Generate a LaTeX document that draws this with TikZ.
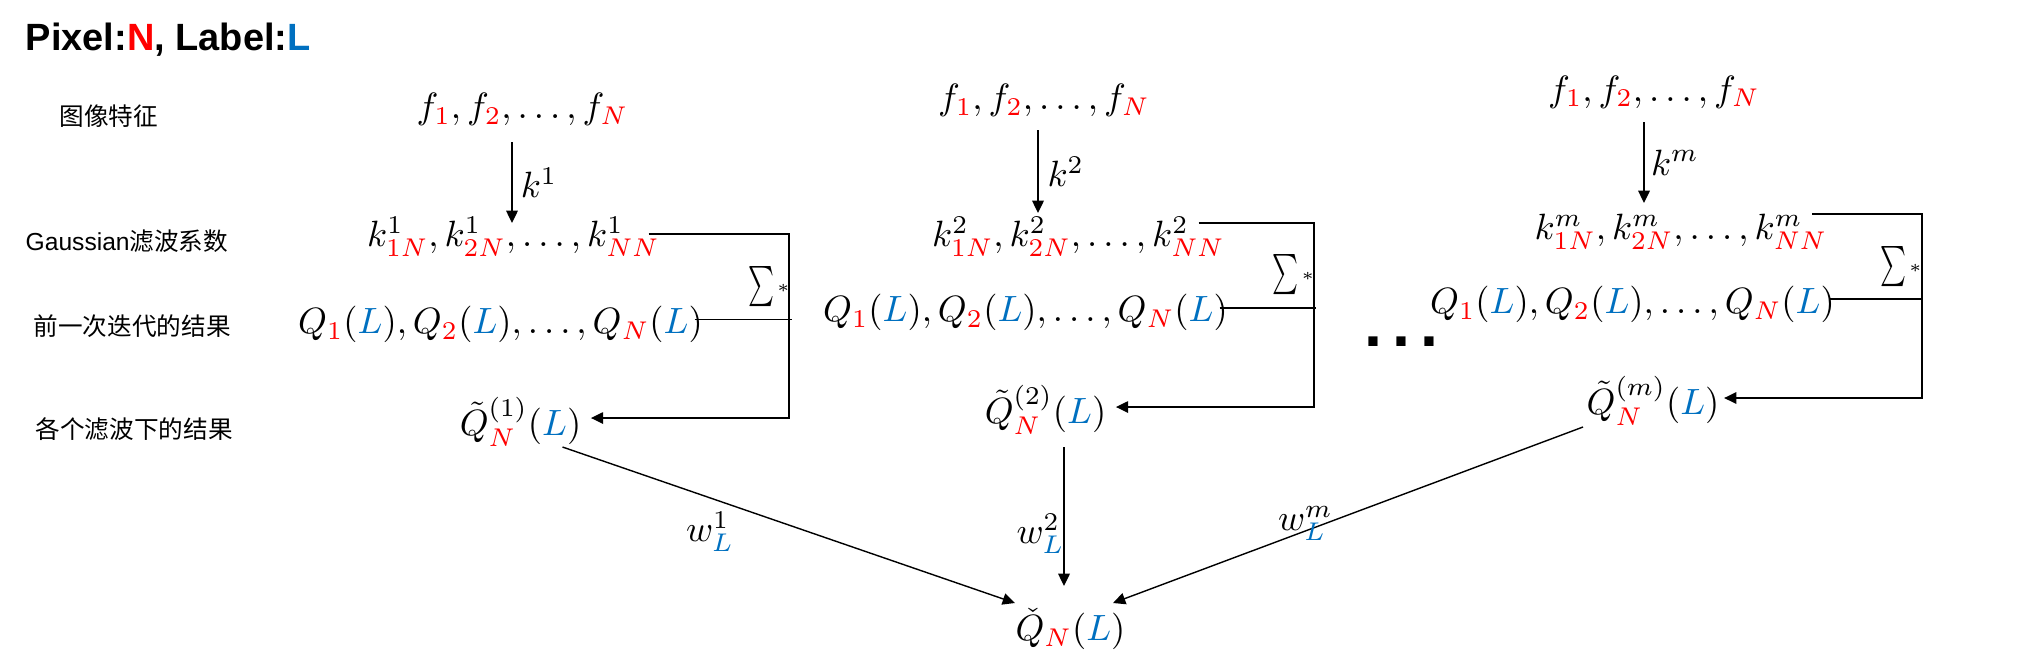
\RequirePackage{fix-cm}
\documentclass[tikz,border=0pt]{standalone}
\usepackage[no-math]{fontspec}
\usepackage{graphicx}
\setmainfont{Liberation Sans}
\newfontfamily\cjk{Noto Sans CJK SC}
\usetikzlibrary{calc,arrows.meta}
\definecolor{pxred}{RGB}{255,0,0}
\definecolor{lblue}{RGB}{0,112,192}
\newcommand{\pxr}[1]{{\color{pxred}#1}}
\newcommand{\lbl}[1]{{\color{lblue}#1}}
\newcommand{\sigstar}{\scalebox{0.70}[1.14]{$\textstyle\sum$}\hspace{0.8pt}\raisebox{1.2pt}{$\scriptscriptstyle *$}}
\begin{document}
\begin{tikzpicture}[x=0.01cm,y=-0.01cm,
  mth/.style={inner sep=0pt, font=\fontsize{10.4}{12}\selectfont},
  lab/.style={inner sep=0pt, anchor=west, font=\fontsize{7}{8}\selectfont},
  arr/.style={line width=0.4pt, -{Triangle[width=3.3pt,length=3.5pt]}},
  ln/.style={line width=0.4pt},
  sig/.style={inner sep=0pt, font=\fontsize{10}{12}\selectfont}]
\useasboundingbox (0,0) rectangle (2027,666);

% title and row labels
\node[anchor=base west, inner sep=0pt, font=\bfseries\fontsize{10.8}{12}\selectfont] (title) at (25,50)
  {Pixel:\textcolor{pxred}{N}, Label:\textcolor{lblue}{L}};
\node[lab] (l1) at (59,116) {\cjk 图像特征};
\node[lab] (l2) at (25,241) {Gaussian{\cjk 滤波系数}};
\node[lab] (l3) at (33,326) {\cjk 前一次迭代的结果};
\node[lab] (l4) at (35,429) {\cjk 各个滤波下的结果};

% column 1
\node[mth] (f1) at (522.5,109.5) {$f_{\pxr{1}},f_{\pxr{2}},\ldots,f_{\pxr{N}}$};
\node[mth] (k1) at (513.5,237) {$k^{1}_{\pxr{1N}},k^{1}_{\pxr{2N}},\ldots,k^{1}_{\pxr{NN}}$};
\node[mth] (q1) at (500.5,324.5) {$Q_{\pxr{1}}(\lbl{L}),Q_{\pxr{2}}(\lbl{L}),\ldots,Q_{\pxr{N}}(\lbl{L})$};
\node[mth] (qt1) at (520.5,422) {$\tilde{Q}^{(1)}_{\pxr{N}}(\lbl{L})$};
\node[sig] (s1) at (769,286.5) {\sigstar};

% column 2
\node[mth] (f2) at (1044,100.5) {$f_{\pxr{1}},f_{\pxr{2}},\ldots,f_{\pxr{N}}$};
\node[mth] (k2) at (1078.5,237) {$k^{2}_{\pxr{1N}},k^{2}_{\pxr{2N}},\ldots,k^{2}_{\pxr{NN}}$};
\node[mth] (q2) at (1025.5,312.5) {$Q_{\pxr{1}}(\lbl{L}),Q_{\pxr{2}}(\lbl{L}),\ldots,Q_{\pxr{N}}(\lbl{L})$};
\node[mth] (qt2) at (1045.5,410) {$\tilde{Q}^{(2)}_{\pxr{N}}(\lbl{L})$};
\node[sig] (s2) at (1293.5,275) {\sigstar};

% column 3
\node[mth] (f3) at (1654,92) {$f_{\pxr{1}},f_{\pxr{2}},\ldots,f_{\pxr{N}}$};
\node[mth] (k3) at (1681,231.5) {$k^{m}_{\pxr{1N}},k^{m}_{\pxr{2N}},\ldots,k^{m}_{\pxr{NN}}$};
\node[mth] (q3) at (1632.5,304.5) {$Q_{\pxr{1}}(\lbl{L}),Q_{\pxr{2}}(\lbl{L}),\ldots,Q_{\pxr{N}}(\lbl{L})$};
\node[mth] (qt3) at (1653,401) {$\tilde{Q}^{(m)}_{\pxr{N}}(\lbl{L})$};
\node[sig] (s3) at (1901,266.5) {\sigstar};

% ellipsis between columns
\node[anchor=base, inner sep=0pt, font=\bfseries\fontsize{18.4}{20}\selectfont] (dots) at (1401.5,346)
  {.\hspace{2.85pt}.\hspace{2.85pt}.};

% result
\node[mth] (qc) at (1070.5,629) {$\check{Q}_{\pxr{N}}(\lbl{L})$};

% right corners of the sum brackets
\coordinate (r1) at (789,234);
\coordinate (r2) at (1314,223);
\coordinate (r3) at (1922,214);

% kernel arrows
\draw[arr] ($(f1)+(-10.5,32.5)$) -- ($(k1)+(-1.5,-14)$)
  node[midway, anchor=west, inner sep=0pt, xshift=2.3pt, font=\fontsize{10.4}{12}\selectfont] (lk1) {$k^{1}$};
\draw[arr] ($(f2)+(-6,29.5)$) -- ($(k2)+(-40.5,-24)$)
  node[midway, anchor=west, inner sep=0pt, xshift=2.5pt, font=\fontsize{10.4}{12}\selectfont] (lk2) {$k^{2}$};
\draw[arr] ($(f3)+(-10,30)$) -- ($(k3)+(-37,-28.5)$)
  node[midway, anchor=west, inner sep=0pt, xshift=1.8pt, font=\fontsize{10.4}{12}\selectfont] (lk3) {$k^{m}$};

% sum brackets
\draw[arr] ($(k1.east |- r1)+(-12,0)$) -- (r1) |- ($(qt1.east)+(9,-4)$);
\draw[ln] ($(q1.east)+(-9,-5)$) -- ($(q1.east -| r1)+(3,-5)$);
\draw[arr] ($(k2.east |- r2)+(-27,0)$) -- (r2) |- ($(qt2.east)+(9,-3)$);
\draw[ln] ($(q2.east)+(-9,-4.5)$) -- ($(q2.east -| r2)+(2,-4.5)$);
\draw[arr] ($(k3.east |- r3)+(-16,0)$) -- (r3) |- ($(qt3.east)+(4,-3)$);
\draw[ln] ($(q3.east)+(-7,-5.5)$) -- ($(q3.east -| r3)+(1,-5.5)$);

% weighting arrows
\draw[arr] ($(qt1)+(42,25)$) -- ($(qc)+(-55.5,-26)$);
\draw[arr] ($(qt2)+(18.5,37)$) -- ($(qc)+(-6.5,-43)$);
\draw[arr] ($(qt3)+(-70,26)$) -- ($(qc)+(42.5,-26)$);
\node[mth] (w1) at (710,531.5) {$w^{1}_{\lbl{L}}$};
\node[mth] (w2) at (1040.5,533.5) {$w^{2}_{\lbl{L}}$};
\node[mth] (w3) at (1305.5,523.5) {$w^{m}_{\lbl{L}}$};
\end{tikzpicture}
\end{document}
